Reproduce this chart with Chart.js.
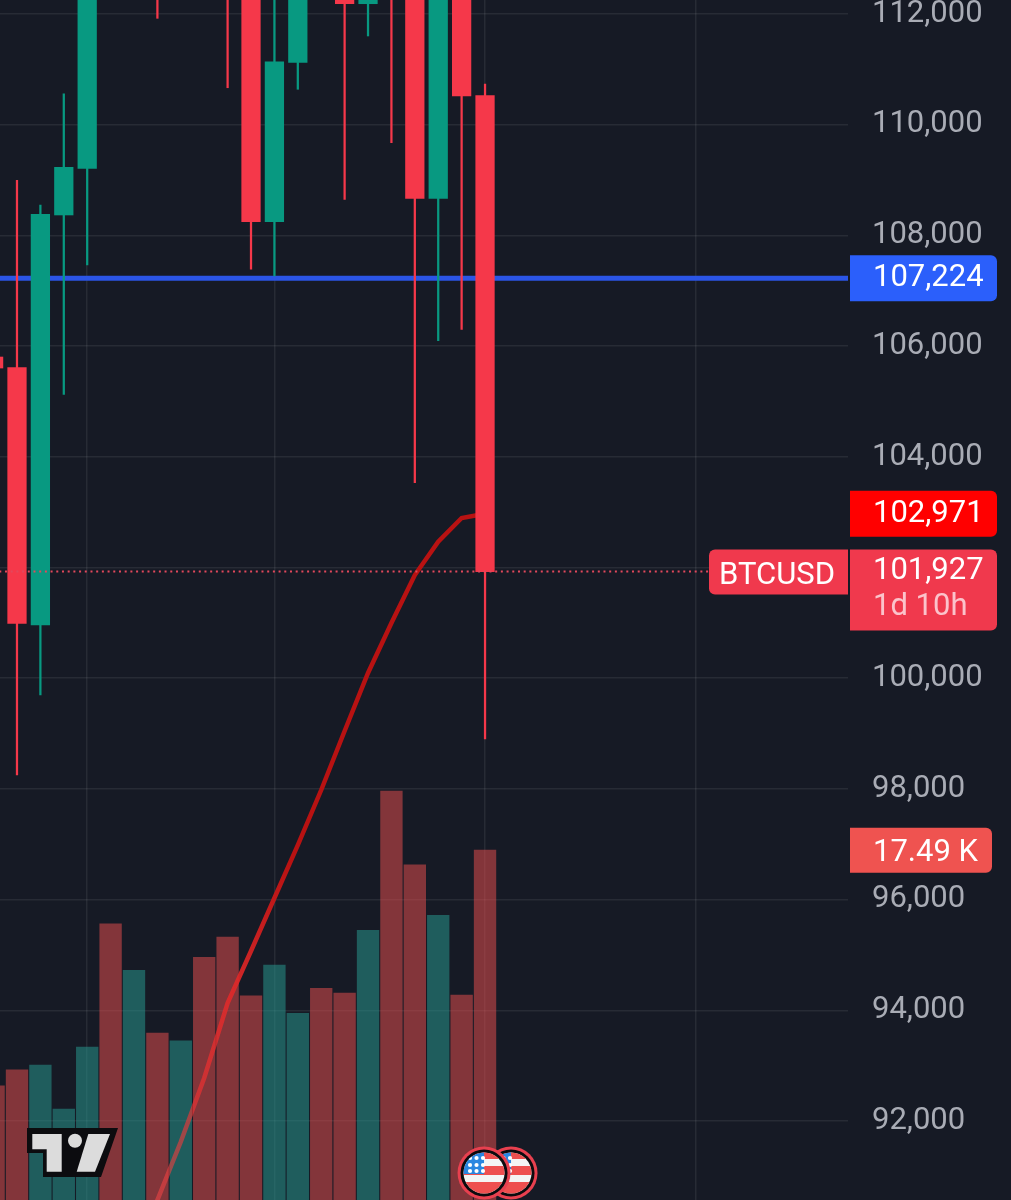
<!DOCTYPE html>
<html>
<head>
<meta charset="utf-8">
<title>BTCUSD</title>
<script src="https://cdn.jsdelivr.net/npm/chart.js@4"></script>
<style>
  html, body { margin: 0; padding: 0; background: #161a25; }
  canvas { display: block; }
</style>
</head>
<body>
<canvas id="chart" width="1011" height="1200"></canvas>
<script>
// daily candles, index 0 is the first one fully on screen
const candleIndex = [-1, 0, 1, 2, 3, 4, 5, 6, 7, 8, 9, 10, 11, 12, 13, 14, 15, 16, 17, 18, 19, 20];
const opens  = [105803, 105610, 100961, 108369, 109212, 114300, 113400, 114300, 113000, 114000, 113300, 113000, 108248, 111127, 113500, 113000, 112186, 113200, 112600, 108670, 112800, 110524];
const closes = [105604, 100992, 108381, 109230, 113600, 113400, 114200, 113000, 113900, 113300, 112700, 108248, 111138, 112900, 112900, 112186, 112900, 112600, 108670, 112800, 110519, 101927];
const highs  = [105900, 108996, 108549, 110560, 114000, 115000, 115000, 115000, 114600, 114800, 113900, 113300, 112600, 113200, 113800, 113300, 113100, 113500, 113000, 113000, 113100, 110735];
const lows   = [105500, 98251, 99697, 105129, 107465, 112600, 112700, 111922, 112500, 112400, 110668, 107388, 107267, 110640, 112400, 108652, 111603, 109675, 103532, 106098, 106303, 98902];
const volumes = [5.71, 6.51, 6.75, 4.55, 7.65, 13.81, 11.48, 8.35, 7.96, 12.13, 13.14, 10.21, 11.74, 9.33, 10.58, 10.34, 13.48, 20.45, 16.76, 14.23, 10.24, 17.49];

// moving average, only from index 5 on
const maIndex = [5, 6, 7, 8, 9, 10, 11, 12, 13, 14, 15, 16, 17, 18, 19, 20];
const maValues = [89489, 90573, 91625, 92777, 94132, 95071, 96029, 96986, 97980, 99046, 100094, 100997, 101864, 102466, 102894, 102971];

const priceTicks = [92000, 94000, 96000, 98000, 100000, 102000, 104000, 106000, 108000, 110000, 112000];
const timeGrid = [3, 11, 20, 29];

const levelPrice = 107224;
const maLast = 102971;
const lastPrice = 101927;
const lastVolume = 17.49;
const symbol = 'BTCUSD';
const countdown = '1d 10h';

const UP = '#089981';
const DOWN = '#f5384a';
const GRID = 'rgba(255,255,255,0.075)';
const FONT = '31px Roboto';

const fmt = v => v.toLocaleString('en-US');
const candleColor = candleIndex.map((_, i) => (closes[i] >= opens[i] ? UP : DOWN));
const xRange = [candleIndex[0], 36];

function tag(ctx, x, y, w, h, color, radii) {
  ctx.fillStyle = color;
  ctx.beginPath();
  ctx.roundRect(x, y, w, h, radii);
  ctx.fill();
}

function label(ctx, text, x, y, color) {
  ctx.fillStyle = color;
  ctx.fillText(text, x, y);
}

function drawFlag(ctx, cx, cy) {
  ctx.save();
  ctx.beginPath();
  ctx.arc(cx, cy, 26.5, 0, Math.PI * 2);
  ctx.fillStyle = '#e8404f';
  ctx.fill();
  ctx.beginPath();
  ctx.arc(cx, cy, 23.5, 0, Math.PI * 2);
  ctx.fillStyle = '#0b0b0e';
  ctx.fill();
  ctx.beginPath();
  ctx.arc(cx, cy, 20.5, 0, Math.PI * 2);
  ctx.clip();
  ctx.fillStyle = '#f4f4f4';
  ctx.fillRect(cx - 21, cy - 21, 42, 42);
  ctx.fillStyle = '#ee4f4f';
  ctx.fillRect(cx - 21, cy - 21, 42, 7);
  ctx.fillRect(cx - 21, cy - 7, 42, 9);
  ctx.fillRect(cx - 21, cy + 9, 42, 12);
  ctx.fillStyle = '#2a86e0';
  ctx.fillRect(cx - 21, cy - 21, 21, 22);
  ctx.fillStyle = '#ffffff';
  [-16, -9, -3].forEach(sy => {
    [-14, -7.5, -1].forEach(sx => {
      ctx.beginPath();
      ctx.arc(cx + sx, cy + sy + 1, 2.1, 0, Math.PI * 2);
      ctx.fill();
    });
  });
  ctx.restore();
}

function poly(ctx, pts, color) {
  ctx.fillStyle = color;
  ctx.beginPath();
  pts.forEach((p, i) => (i ? ctx.lineTo(p[0], p[1]) : ctx.moveTo(p[0], p[1])));
  ctx.closePath();
  ctx.fill();
}

function drawLogo(ctx) {
  const grey = '#dcdcdc';
  poly(ctx, [[27, 1128], [118, 1128], [101, 1177], [43, 1177], [43, 1153], [27, 1153]], '#0c0c0f');
  poly(ctx, [[32.3, 1134], [61.7, 1134], [61.7, 1171.7], [46.7, 1171.7], [46.7, 1149.3], [32.3, 1149.3]], grey);
  ctx.fillStyle = grey;
  ctx.beginPath();
  ctx.arc(75, 1140.7, 7, 0, Math.PI * 2);
  ctx.fill();
  poly(ctx, [[88.3, 1134], [110, 1134], [95, 1171.7], [76.7, 1171.7]], grey);
}

const overlayPlugin = {
  id: 'overlay',
  afterDraw(chart) {
    const ctx = chart.ctx;
    const y = chart.scales.y;
    const vol = chart.scales.volume;
    const x = chart.scales.x;
    const left = 850;
    const width = 147;
    const textX = 873;
    const corners = [0, 6, 6, 0];

    ctx.save();
    drawLogo(ctx);
    const flagX = x.getPixelForValue(20);
    drawFlag(ctx, flagX + 26, 1173);
    drawFlag(ctx, flagX - 1, 1173);

    ctx.font = FONT;
    ctx.textAlign = 'left';
    ctx.textBaseline = 'middle';

    const levelY = y.getPixelForValue(levelPrice);
    tag(ctx, left, levelY - 23, width, 46, '#2b5ffb', corners);
    label(ctx, fmt(levelPrice), textX, levelY, '#ffffff');

    const maY = y.getPixelForValue(maLast);
    tag(ctx, left, maY - 23, width, 46, '#ff0000', corners);
    label(ctx, fmt(maLast), textX, maY, '#ffffff');

    const lastY = y.getPixelForValue(lastPrice);
    tag(ctx, 709, lastY - 22, 139, 45, '#f0394d', [6, 0, 0, 6]);
    label(ctx, symbol, 719, lastY + 5, '#ffffff');
    tag(ctx, left, lastY - 22, width, 81, '#f0394d', corners);
    label(ctx, fmt(lastPrice), textX, lastY, '#ffffff');
    label(ctx, countdown, textX, lastY + 36, '#fbc3cb');

    const volY = vol.getPixelForValue(lastVolume);
    tag(ctx, left, volY - 22.5, 142, 45, '#ef5350', corners);
    label(ctx, lastVolume + ' K', textX, volY + 3, '#ffffff');
    ctx.restore();
  }
};

// the average fades out towards the bottom of the pane
function maColor(context) {
  const area = context.chart.chartArea;
  if (!area) return '#b01414';
  const g = context.chart.ctx.createLinearGradient(0, 860, 0, 1200);
  g.addColorStop(0, '#b81212');
  g.addColorStop(0.35, 'rgba(225,40,40,0.9)');
  g.addColorStop(0.7, 'rgba(240,50,50,0.65)');
  g.addColorStop(1, 'rgba(245,70,70,0.55)');
  return g;
}

new Chart(document.getElementById('chart'), {
  type: 'bar',
  data: {
    datasets: [
      {
        label: 'Last price',
        type: 'line',
        data: xRange.map(v => ({ x: v, y: lastPrice })),
        borderColor: '#e2485c',
        borderWidth: 2,
        borderDash: [2, 3.7],
        pointRadius: 0,
        order: 0
      },
      {
        label: 'Body',
        data: candleIndex.map((v, i) => ({ x: v, y: [opens[i], closes[i]] })),
        backgroundColor: candleColor,
        barThickness: 18.6,
        grouped: false,
        order: 1
      },
      {
        label: 'Wick',
        data: candleIndex.map((v, i) => ({ x: v, y: [lows[i], highs[i]] })),
        backgroundColor: candleColor,
        barThickness: 1.6,
        grouped: false,
        order: 2
      },
      {
        label: 'Level',
        type: 'line',
        data: xRange.map(v => ({ x: v, y: levelPrice })),
        borderColor: '#2b55e6',
        borderWidth: 5,
        pointRadius: 0,
        order: 3
      },
      {
        label: 'MA',
        type: 'line',
        data: maIndex.map((v, i) => ({ x: v, y: maValues[i] })),
        borderColor: maColor,
        borderWidth: 4.5,
        pointRadius: 0,
        tension: 0,
        order: 4
      },
      {
        label: 'Volume',
        yAxisID: 'volume',
        data: candleIndex.map((v, i) => ({ x: v, y: volumes[i] })),
        backgroundColor: candleIndex.map((_, i) =>
          closes[i] >= opens[i] ? 'rgba(40,160,150,0.5)' : 'rgba(240,80,80,0.5)'
        ),
        barThickness: 21.7,
        grouped: false,
        order: 5
      }
    ]
  },
  options: {
    responsive: false,
    animation: false,
    events: [],
    layout: { padding: 0 },
    plugins: { legend: { display: false }, tooltip: { enabled: false } },
    scales: {
      x: {
        type: 'linear',
        display: true,
        offset: false,
        min: -0.726,
        max: 35.51,
        afterBuildTicks: scale => { scale.ticks = timeGrid.map(value => ({ value })); },
        afterFit: scale => { scale.height = 0; scale.paddingLeft = 0; scale.paddingRight = 0; },
        ticks: { display: false },
        border: { display: false },
        grid: { color: GRID, lineWidth: 1.5, drawTicks: false, offset: false }
      },
      y: {
        position: 'right',
        beginAtZero: false,
        min: 90573,
        max: 112253,
        afterBuildTicks: scale => { scale.ticks = priceTicks.map(value => ({ value })); },
        afterFit: scale => { scale.width = 163; scale.paddingTop = 0; scale.paddingBottom = 0; },
        ticks: {
          autoSkip: false,
          padding: 24,
          labelOffset: 0,
          crossAlign: 'near',
          color: '#a9acb5',
          font: { family: 'Roboto', size: 31 },
          callback: value => fmt(value)
        },
        border: { display: false },
        grid: { color: GRID, lineWidth: 1.5, drawTicks: false }
      },
      volume: {
        display: false,
        position: 'left',
        min: 0,
        max: 60
      }
    }
  },
  plugins: [overlayPlugin]
});
</script>
</body>
</html>
